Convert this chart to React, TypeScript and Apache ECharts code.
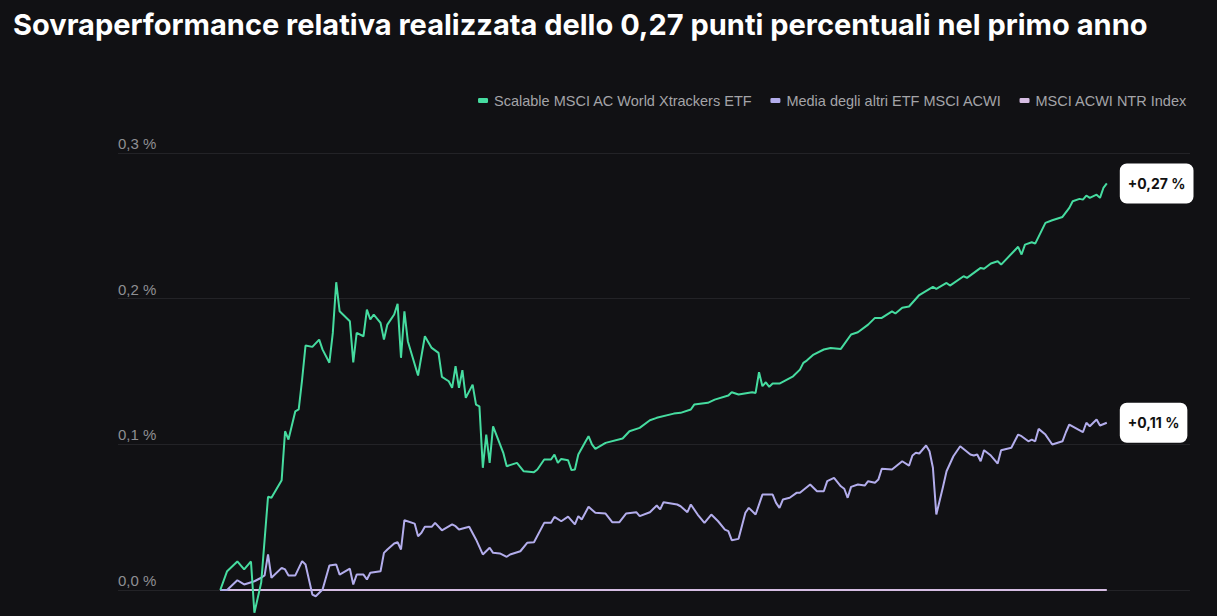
import React, { useEffect, useRef } from "react";
import * as echarts from "echarts";

const titleText = "Sovraperformance relativa realizzata dello 0,27 punti percentuali nel primo anno";
const seriesNames = [
  "Scalable MSCI AC World Xtrackers ETF",
  "Media degli altri ETF MSCI ACWI",
  "MSCI ACWI NTR Index",
];
const endLabels = ["+0,27 %", "+0,11 %"];
const yTicks = [0, 0.1, 0.2, 0.3];

// [trading day, relative performance in %]
const scalableEtf: [number, number][] = [
  [0, 0], [2, 0.0129], [5, 0.0196], [7, 0.0141], [9, 0.0196], [10, -0.0156], [12, 0.0051],
  [14, 0.064], [15, 0.0633], [18, 0.0754], [19, 0.109], [20, 0.1033], [22, 0.1227], [23, 0.124],
  [24, 0.1445], [25, 0.1678], [27, 0.1669], [29, 0.1719], [30, 0.165], [32, 0.156], [33, 0.1765],
  [34, 0.2113], [35, 0.1913], [38, 0.1845], [39, 0.1563], [40, 0.1765], [42, 0.1742], [43, 0.1925],
  [44, 0.1857], [45, 0.1891], [47, 0.1834], [48, 0.1719], [49, 0.1822], [51, 0.1891], [52, 0.1964],
  [53, 0.1594], [54, 0.1913], [55, 0.1708], [58, 0.1472], [60, 0.1742], [62, 0.1662], [64, 0.1628],
  [65, 0.1463], [67, 0.1433], [68, 0.1388], [69, 0.1536], [70, 0.1388], [71, 0.1509], [72, 0.1319],
  [74, 0.141], [75, 0.1273], [76, 0.1261], [77, 0.0839], [78, 0.1067], [79, 0.0873], [80, 0.1124],
  [83, 0.0942], [84, 0.085], [87, 0.0873], [89, 0.0815], [92, 0.0809], [93, 0.0827], [95, 0.0896],
  [97, 0.0896], [98, 0.093], [99, 0.0873], [100, 0.09], [102, 0.0891], [103, 0.0823], [104, 0.0827],
  [105, 0.093], [107, 0.1014], [108, 0.1056], [109, 0.0999], [110, 0.0969], [113, 0.101], [118, 0.104],
  [120, 0.109], [123, 0.1113], [126, 0.1165], [128, 0.1182], [133, 0.1211], [135, 0.1216], [138, 0.1239],
  [139, 0.1273], [143, 0.1285], [145, 0.1307], [149, 0.1335], [150, 0.1358], [152, 0.1342], [156, 0.1358],
  [157, 0.1353], [158, 0.1495], [159, 0.1399], [160, 0.1426], [161, 0.1395], [162, 0.1417], [164, 0.1417],
  [168, 0.1467], [170, 0.1513], [171, 0.1559], [172, 0.1575], [174, 0.1616], [177, 0.1651], [179, 0.1662],
  [182, 0.1655], [185, 0.1754], [187, 0.1769], [190, 0.1822], [192, 0.1868], [194, 0.1868], [197, 0.1913],
  [198, 0.1898], [200, 0.1937], [202, 0.1946], [205, 0.2025], [209, 0.2081], [210, 0.2067], [213, 0.2108],
  [214, 0.209], [218, 0.2154], [219, 0.2143], [223, 0.2211], [224, 0.2205], [226, 0.2241], [228, 0.2257],
  [229, 0.2234], [234, 0.2356], [235, 0.2303], [236, 0.2371], [238, 0.2387], [239, 0.2378], [242, 0.252],
  [244, 0.2538], [247, 0.2561], [249, 0.2623], [250, 0.2669], [252, 0.2685], [253, 0.268], [254, 0.2708],
  [255, 0.2692], [257, 0.2714], [258, 0.2692], [259, 0.276], [260, 0.2791],
];

const otherEtfAverage: [number, number][] = [
  [0, 0], [2, 0], [5, 0.0067], [7, 0.0038], [10, 0.006], [12, 0.0084], [13, 0.01], [14, 0.0244],
  [15, 0.0084], [18, 0.0152], [19, 0.0141], [20, 0.01], [22, 0.01], [24, 0.0198], [25, 0.0175],
  [27, -0.0031], [28, -0.0043], [30, 0.0003], [32, 0.0168], [34, 0.0175], [35, 0.0106], [38, 0.0146],
  [39, 0.0038], [40, 0.0106], [42, 0.0106], [43, 0.0072], [44, 0.0118], [47, 0.0129], [48, 0.0255],
  [49, 0.0278], [51, 0.0319], [52, 0.0328], [53, 0.0278], [54, 0.0479], [57, 0.0456], [58, 0.0369],
  [59, 0.0393], [60, 0.0434], [62, 0.0434], [63, 0.0461], [65, 0.041], [68, 0.045], [69, 0.0438],
  [70, 0.0415], [73, 0.0434], [75, 0.0347], [77, 0.0244], [79, 0.029], [80, 0.0255], [82, 0.0251],
  [84, 0.0228], [85, 0.0244], [88, 0.0266], [90, 0.0324], [92, 0.0328], [95, 0.0461], [97, 0.0461],
  [98, 0.0502], [100, 0.0472], [102, 0.0504], [104, 0.045], [105, 0.0507], [106, 0.0484], [108, 0.0571],
  [110, 0.053], [113, 0.0525], [115, 0.0465], [117, 0.0465], [119, 0.0525], [122, 0.0534], [123, 0.0507],
  [126, 0.0534], [128, 0.058], [129, 0.0553], [130, 0.0603], [134, 0.0587], [135, 0.0575], [137, 0.0534],
  [138, 0.0587], [140, 0.0518], [142, 0.0461], [144, 0.0518], [146, 0.0472], [148, 0.0415], [149, 0.0404],
  [150, 0.0342], [152, 0.0351], [154, 0.053], [155, 0.0564], [157, 0.0518], [159, 0.0655], [162, 0.0655],
  [163, 0.0598], [164, 0.0564], [165, 0.0621], [167, 0.0633], [169, 0.0667], [170, 0.0667], [173, 0.0724],
  [175, 0.0678], [177, 0.0678], [178, 0.0747], [180, 0.077], [182, 0.0712], [183, 0.0695], [184, 0.0633],
  [185, 0.0708], [187, 0.0724], [189, 0.0717], [190, 0.0747], [192, 0.0736], [193, 0.0758], [194, 0.0832],
  [197, 0.0827], [198, 0.0846], [200, 0.0884], [202, 0.0854], [203, 0.0923], [204, 0.0942], [205, 0.0937],
  [207, 0.0992], [208, 0.0953], [209, 0.0839], [210, 0.0518], [212, 0.0712], [213, 0.0815], [215, 0.0918],
  [217, 0.0987], [220, 0.093], [221, 0.0923], [222, 0.093], [223, 0.0884], [224, 0.096], [226, 0.0923],
  [228, 0.0868], [229, 0.096], [232, 0.0976], [234, 0.1067], [235, 0.1056], [237, 0.1021], [238, 0.1033],
  [239, 0.1021], [240, 0.1106], [242, 0.1067], [244, 0.0999], [247, 0.1021], [248, 0.1083], [249, 0.1136],
  [253, 0.1083], [254, 0.1148], [255, 0.1124], [257, 0.117], [258, 0.1129], [260, 0.1148],
];

const ntrIndex: [number, number][] = [
  [0, 0], [260, 0],
];

const colors = ["#46dca0", "#b3adec", "#d6bde3"];

export default function App() {
  const ref = useRef<HTMLDivElement>(null);
  useEffect(() => {
    if (!ref.current) return;
    const chart = echarts.init(ref.current, null, { renderer: "svg" });
    const endLabel = (text: string) => ({
      show: true,
      formatter: text,
      distance: 13,
      backgroundColor: "#ffffff",
      borderRadius: 7,
      padding: [13, 8, 13, 8],
      color: "#111111",
      fontFamily: "Inter, 'Noto Sans', sans-serif",
      fontWeight: 700,
      fontSize: 14,
    });
    chart.setOption({
      animation: false,
      backgroundColor: "#111114",
      title: {
        text: titleText,
        left: 8,
        top: 5,
        textStyle: {
          color: "#ffffff",
          fontFamily: "Inter, 'Noto Sans', sans-serif",
          fontWeight: 700,
          fontSize: 29,
        },
      },
      legend: {
        right: 25,
        top: 88,
        icon: "roundRect",
        itemWidth: 10,
        itemHeight: 5,
        itemGap: 18,
        data: seriesNames,
        textStyle: {
          color: "#a4a4a8",
          fontSize: 14.5,
          fontFamily: "'Liberation Sans', Arial, sans-serif",
          padding: [0, 0, 0, 1],
        },
      },
      grid: { left: 118, right: 27, top: 153, bottom: 26, containLabel: false },
      xAxis: {
        type: "value",
        min: -30,
        max: 284.4,
        show: false,
        splitLine: { show: false },
      },
      yAxis: {
        type: "value",
        min: yTicks[0],
        max: yTicks[yTicks.length - 1],
        interval: 0.1,
        axisLine: { show: false },
        axisTick: { show: false },
        axisLabel: {
          inside: true,
          margin: 0,
          verticalAlign: "bottom",
          padding: [0, 0, 2, 0],
          color: "#8f8f93",
          fontSize: 15,
          fontFamily: "'Liberation Sans', Arial, sans-serif",
          formatter: (v: number) => v.toFixed(1).replace(".", ",") + " %",
        },
        splitLine: { show: true, lineStyle: { color: "#232327", width: 1 } },
      },
      series: [
        {
          name: seriesNames[2],
          type: "line",
          data: ntrIndex,
          showSymbol: false,
          symbol: "none",
          clip: false,
          color: colors[2],
          lineStyle: { width: 2, color: colors[2] },
          z: 1,
        },
        {
          name: seriesNames[1],
          type: "line",
          data: otherEtfAverage,
          showSymbol: false,
          symbol: "none",
          clip: false,
          color: colors[1],
          lineStyle: { width: 2, color: colors[1] },
          endLabel: endLabel(endLabels[1]),
          z: 2,
        },
        {
          name: seriesNames[0],
          type: "line",
          data: scalableEtf,
          showSymbol: false,
          symbol: "none",
          clip: false,
          color: colors[0],
          lineStyle: { width: 2, color: colors[0] },
          endLabel: endLabel(endLabels[0]),
          z: 3,
        },
      ],
    });
    return () => chart.dispose();
  }, []);
  return (
    <div
      ref={ref}
      style={{ position: "fixed", left: 0, top: 0, width: 1217, height: 616 }}
    />
  );
}
